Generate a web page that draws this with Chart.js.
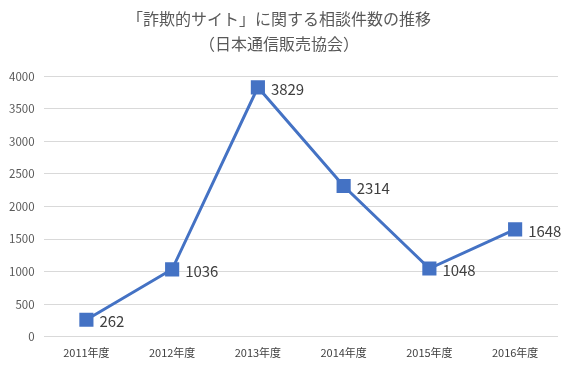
<!DOCTYPE html>
<html><head><meta charset="utf-8">
<script src="https://cdn.jsdelivr.net/npm/chart.js@4/dist/chart.umd.min.js"></script>
<style>html,body{margin:0;padding:0;background:#fff}#w{width:570px;height:368px}</style>
</head><body><div id="w"><canvas id="c" width="570" height="368"></canvas></div>
<script>
const categories = ["2011年度","2012年度","2013年度","2014年度","2015年度","2016年度"];
const values = [262, 1036, 3829, 2314, 1048, 1648];
const titleLines = ["「詐欺的サイト」に関する相談件数の推移", "（日本通信販売協会）"];
const FONT = "'Noto Sans CJK JP', 'Noto Sans', sans-serif";

const labelPlugin = {
  id: 'labels',
  afterDatasetsDraw(chart) {
    const ctx = chart.ctx;
    const meta = chart.getDatasetMeta(0);
    ctx.save();
    ctx.font = "15px " + FONT;
    ctx.fillStyle = "#404040";
    ctx.textBaseline = "middle";
    ctx.textAlign = "left";
    meta.data.forEach((pt, i) => {
      ctx.fillText(String(values[i]), pt.x + 13, pt.y + 2);
    });
    ctx.restore();
  }
};

new Chart(document.getElementById('c'), {
  type: 'line',
  data: {
    labels: categories,
    datasets: [{
      data: values,
      borderColor: '#4472C4',
      backgroundColor: '#4472C4',
      borderWidth: 3,
      pointStyle: 'rect',
      pointRadius: 10,
      pointHoverRadius: 10,
      pointBorderWidth: 0,
      tension: 0
    }]
  },
  options: {
    responsive: false,
    animation: false,
    layout: { padding: { left: 0, right: 12, top: 0, bottom: 8 } },
    plugins: {
      legend: { display: false },
      tooltip: { enabled: false },
      title: {
        display: true,
        text: titleLines,
        color: '#595959',
        font: { family: FONT, size: 16, weight: 'normal', lineHeight: 1.6 },
        padding: { top: 6, bottom: 19 }
      }
    },
    scales: {
      x: {
        offset: true,
        grid: { display: false },
        border: { display: false },
        ticks: { color: '#404040', font: { family: FONT, size: 11 }, padding: 1 }
      },
      y: {
        min: 0, max: 4000,
        ticks: { stepSize: 500, color: '#595959', font: { family: FONT, size: 11.5 }, padding: 9,
                 callback: v => String(v) },
        grid: { color: '#d9d9d9', drawTicks: false },
        border: { display: false }
      }
    }
  },
  plugins: [labelPlugin]
});
</script></body></html>
